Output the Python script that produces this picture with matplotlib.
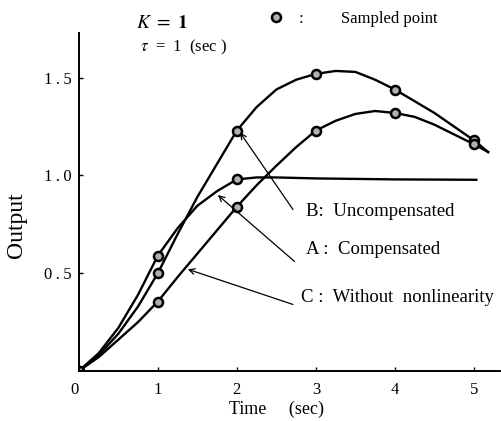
import numpy as np
import matplotlib.pyplot as plt
from matplotlib.lines import Line2D

plt.rcParams['font.family'] = ['Liberation Serif', 'DejaVu Serif']
plt.rcParams['mathtext.fontset'] = 'stix'

# readings taken off the scanned figure
t = [0, 0.25, 0.5, 0.75, 1.0, 1.25, 1.5, 1.75, 2.0, 2.25, 2.5, 2.75,
     3.0, 3.25, 3.5, 3.75, 4.0, 4.25, 4.5, 4.75, 5.0, 5.18]
out_b = [0, 0.08, 0.19, 0.33, 0.50, 0.70, 0.89, 1.06, 1.23, 1.35, 1.44, 1.49,
         1.52, 1.535, 1.53, 1.49, 1.44, 1.38, 1.32, 1.25, 1.18, 1.12]
out_c = [0, 0.07, 0.16, 0.25, 0.355, 0.48, 0.60, 0.72, 0.84, 0.95, 1.05, 1.145,
         1.23, 1.28, 1.315, 1.33, 1.32, 1.30, 1.26, 1.21, 1.16, 1.12]
t_a = [0, 0.25, 0.5, 0.75, 1.0, 1.25, 1.5, 1.75, 2.0, 2.25, 2.5, 3.0,
       4.0, 5.03]
out_a = [0, 0.09, 0.22, 0.39, 0.59, 0.73, 0.845, 0.92, 0.98, 0.99, 0.99, 0.985,
         0.98, 0.978]

# sampled points
samp_t = [0, 1, 2, 3, 4, 5]
samp_b = [0, 0.50, 1.23, 1.52, 1.44, 1.18]
samp_c = [0, 0.355, 0.84, 1.23, 1.32, 1.16]
samp_ta = [0, 1, 2]
samp_a = [0, 0.59, 0.98]

ts = '\u2009'  # thin space, the scan is letter-spaced

fig = plt.figure(figsize=(5.02, 4.21), dpi=100)
ax = fig.add_axes([0.157, 0.119, 0.839, 0.803])

for x, y in [(t, out_b), (t, out_c), (t_a, out_a)]:
    ax.plot(x, y, color='black', lw=1.7, solid_joinstyle='round')

mk = dict(ls='none', marker='o', ms=6.5, mfc='#b0b0b0', mec='black', mew=1.8)
for x, y in [(samp_t, samp_b), (samp_t, samp_c), (samp_ta, samp_a)]:
    ax.plot(x, y, **mk)

ax.set_xlim(0, 5.33)
ax.set_ylim(0, 1.73)
ax.spines['top'].set_visible(False)
ax.spines['right'].set_visible(False)
ax.spines['left'].set_linewidth(1.4)
ax.spines['bottom'].set_linewidth(1.4)

ax.set_xticks([0, 1, 2, 3, 4, 5])
ax.set_xticklabels(['0', '1', '2', '3', '4', '5'])
ax.set_yticks([0.5, 1.0, 1.5])
ax.set_yticklabels([ts.join(s) for s in ['0.5', '1.0', '1.5']])
ax.tick_params(direction='in', length=3, width=1, labelsize=12)
ax.tick_params(axis='x', pad=8)
ax.tick_params(axis='y', pad=5)
ax.get_xticklabels()[0].set_horizontalalignment('right')

ax.set_xlabel('Time     (sec)', fontsize=13)
ax.xaxis.set_label_coords(0.47, -0.088)
ax.set_ylabel('Output', fontsize=17)
ax.yaxis.set_label_coords(-0.124, 0.43)

arrow = dict(arrowstyle='->', color='black', lw=0.9, shrinkA=0, shrinkB=0)
ax.annotate('', xy=(2.04, 1.22), xytext=(2.71, 0.826), arrowprops=arrow)
ax.annotate('', xy=(1.76, 0.90), xytext=(2.73, 0.56), arrowprops=arrow)
ax.annotate('', xy=(1.38, 0.52), xytext=(2.71, 0.34), arrowprops=arrow)

ax.text(2.88, 0.815, 'B:  Uncompensated', fontsize=13.5, va='center')
ax.text(2.88, 0.62, 'A :  Compensated', fontsize=13.5, va='center')
ax.text(2.81, 0.374, 'C :  Without  nonlinearity', fontsize=13.5, va='center')

fig.text(0.27, 0.945, r'$K\ =\ \mathbf{1}$', fontsize=14, va='center')
fig.text(0.278, 0.888, r'$\tau$  =  1  (sec )', fontsize=12, va='center')

handle = Line2D([], [], **mk)
ax.legend([handle], [':         Sampled point'], loc='center left',
          bbox_to_anchor=(0.536, 0.955), bbox_transform=fig.transFigure,
          frameon=False, handlelength=0.8, handletextpad=1.0, fontsize=12,
          borderaxespad=0, borderpad=0)

fig.savefig('out.png', dpi=100)
